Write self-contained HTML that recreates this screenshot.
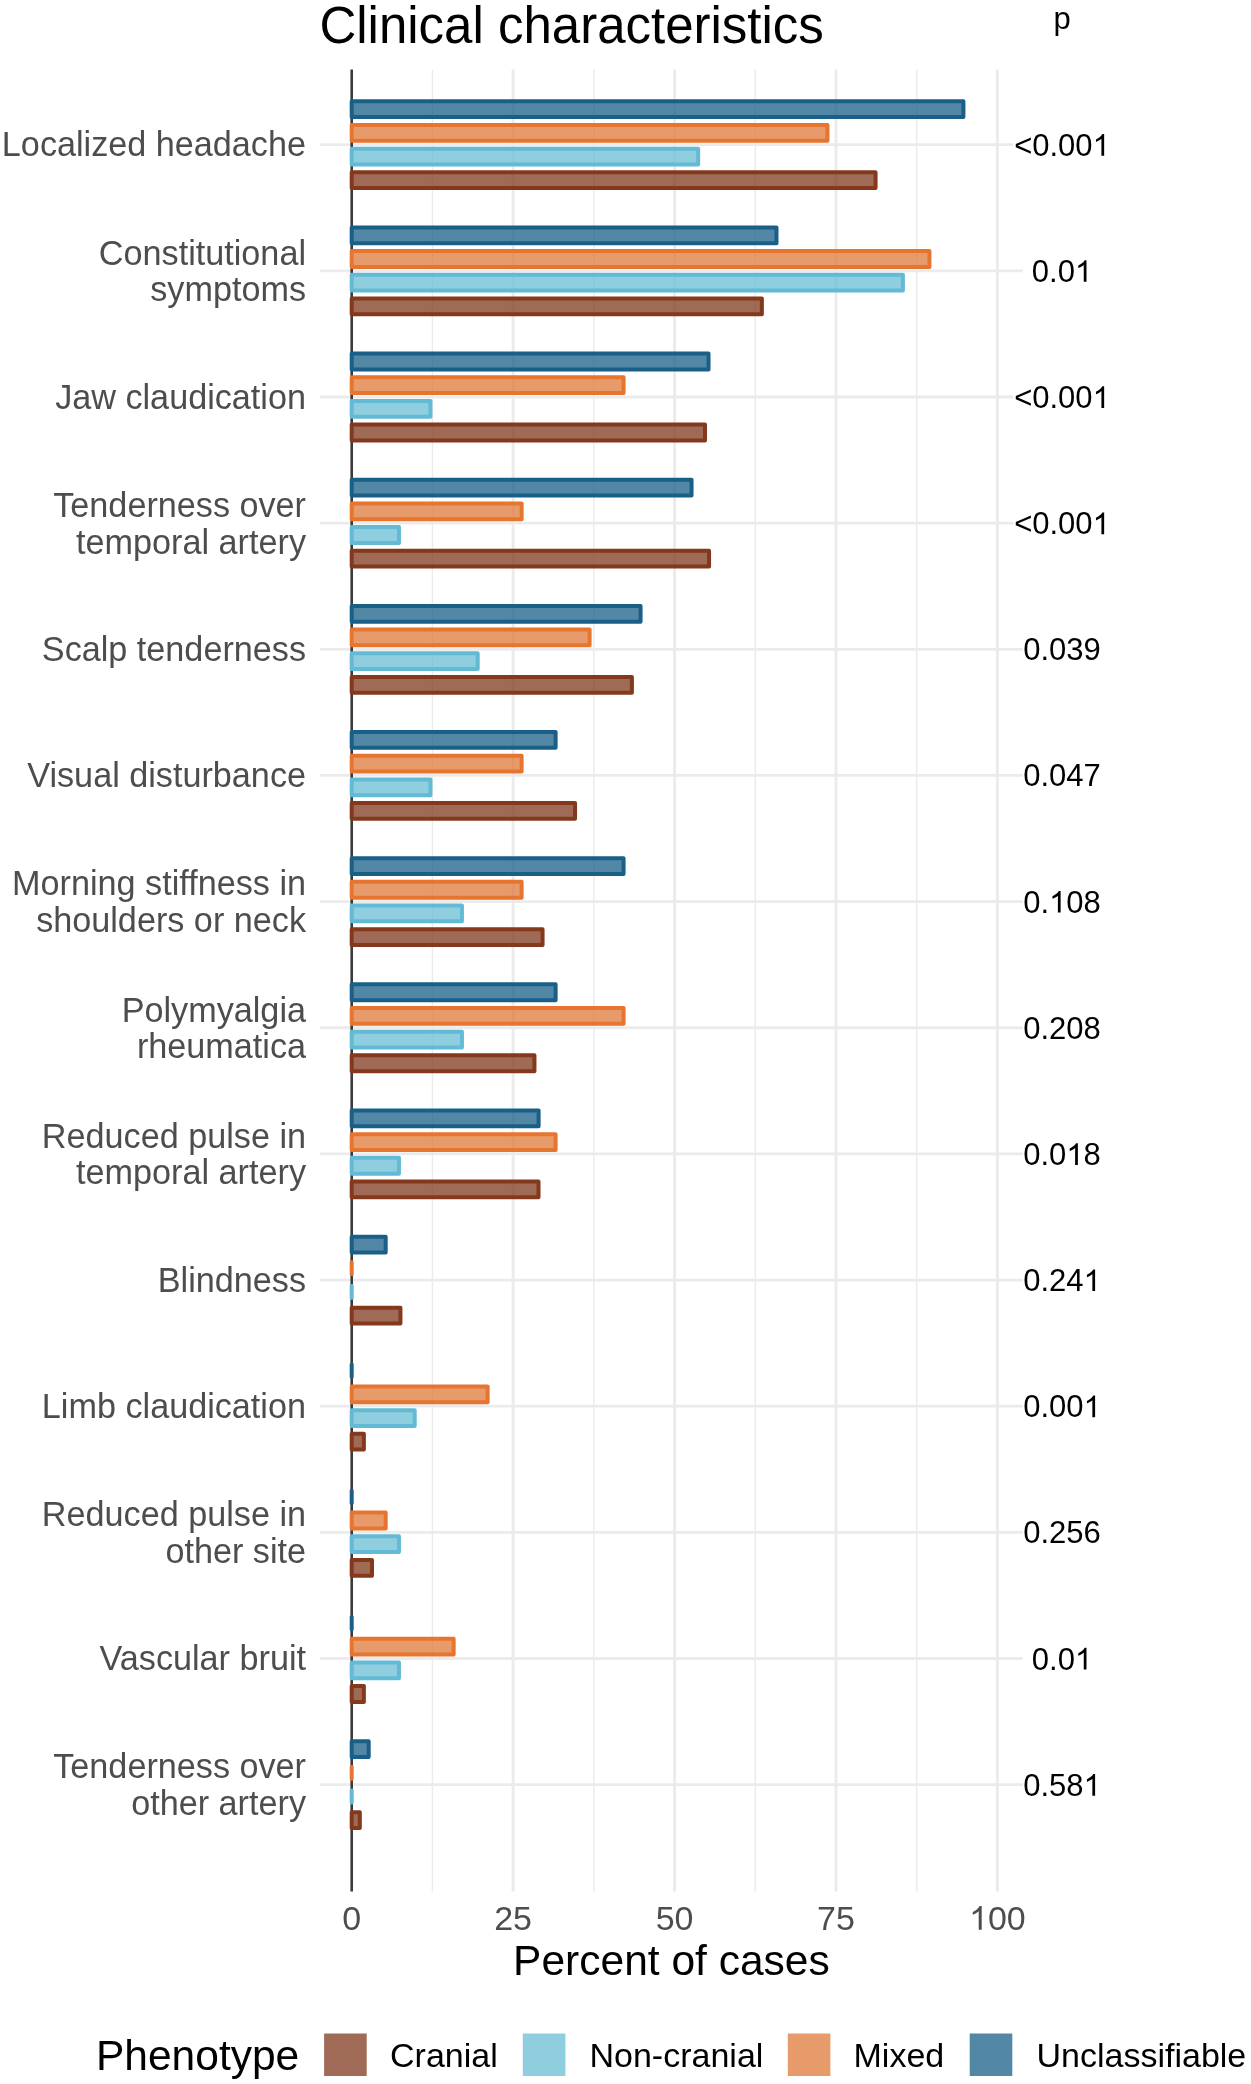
<!DOCTYPE html>
<html><head><meta charset="utf-8"><title>Clinical characteristics</title>
<style>html,body{margin:0;padding:0;background:#fff;}body{width:1251px;height:2084px;overflow:hidden;font-family:"Liberation Sans",sans-serif;}svg{display:block;will-change:transform;}</style>
</head><body>
<svg width="1251" height="2084" viewBox="0 0 1251 2084">
<rect x="0" y="0" width="1251" height="2084" fill="#ffffff"/>
<line x1="432.41" y1="69.5" x2="432.41" y2="1891.6" stroke="#ebebeb" stroke-width="1.4"/>
<line x1="593.84" y1="69.5" x2="593.84" y2="1891.6" stroke="#ebebeb" stroke-width="1.4"/>
<line x1="755.26" y1="69.5" x2="755.26" y2="1891.6" stroke="#ebebeb" stroke-width="1.4"/>
<line x1="916.69" y1="69.5" x2="916.69" y2="1891.6" stroke="#ebebeb" stroke-width="1.4"/>
<line x1="513.12" y1="69.5" x2="513.12" y2="1891.6" stroke="#ebebeb" stroke-width="2.9"/>
<line x1="674.55" y1="69.5" x2="674.55" y2="1891.6" stroke="#ebebeb" stroke-width="2.9"/>
<line x1="835.97" y1="69.5" x2="835.97" y2="1891.6" stroke="#ebebeb" stroke-width="2.9"/>
<line x1="997.40" y1="69.5" x2="997.40" y2="1891.6" stroke="#ebebeb" stroke-width="2.9"/>
<line x1="320" y1="144.70" x2="1013.4" y2="144.70" stroke="#ebebeb" stroke-width="2.8"/>
<line x1="320" y1="270.85" x2="1022.8" y2="270.85" stroke="#ebebeb" stroke-width="2.8"/>
<line x1="320" y1="397.00" x2="1013.4" y2="397.00" stroke="#ebebeb" stroke-width="2.8"/>
<line x1="320" y1="523.15" x2="1013.4" y2="523.15" stroke="#ebebeb" stroke-width="2.8"/>
<line x1="320" y1="649.30" x2="1022.8" y2="649.30" stroke="#ebebeb" stroke-width="2.8"/>
<line x1="320" y1="775.45" x2="1022.8" y2="775.45" stroke="#ebebeb" stroke-width="2.8"/>
<line x1="320" y1="901.60" x2="1022.8" y2="901.60" stroke="#ebebeb" stroke-width="2.8"/>
<line x1="320" y1="1027.75" x2="1022.8" y2="1027.75" stroke="#ebebeb" stroke-width="2.8"/>
<line x1="320" y1="1153.90" x2="1022.8" y2="1153.90" stroke="#ebebeb" stroke-width="2.8"/>
<line x1="320" y1="1280.05" x2="1022.8" y2="1280.05" stroke="#ebebeb" stroke-width="2.8"/>
<line x1="320" y1="1406.20" x2="1022.8" y2="1406.20" stroke="#ebebeb" stroke-width="2.8"/>
<line x1="320" y1="1532.35" x2="1022.8" y2="1532.35" stroke="#ebebeb" stroke-width="2.8"/>
<line x1="320" y1="1658.50" x2="1022.8" y2="1658.50" stroke="#ebebeb" stroke-width="2.8"/>
<line x1="320" y1="1784.65" x2="1022.8" y2="1784.65" stroke="#ebebeb" stroke-width="2.8"/>
<line x1="351.7" y1="69.5" x2="351.7" y2="1891.6" stroke="#3b3b3b" stroke-width="2.6"/>
<rect x="351.70" y="101.30" width="611.72" height="15.80" fill="#1a5f88" fill-opacity="0.75" stroke="#1a5f88" stroke-width="4.0" stroke-linejoin="round"/>
<rect x="351.70" y="124.95" width="475.78" height="15.80" fill="#e07a38" fill-opacity="0.75" stroke="#e67530" stroke-width="4.0" stroke-linejoin="round"/>
<rect x="351.70" y="148.65" width="346.47" height="15.80" fill="#6abed4" fill-opacity="0.75" stroke="#62bad5" stroke-width="4.0" stroke-linejoin="round"/>
<rect x="351.70" y="172.30" width="523.87" height="15.80" fill="#7f3a1e" fill-opacity="0.75" stroke="#84381c" stroke-width="4.0" stroke-linejoin="round"/>
<rect x="351.70" y="227.45" width="424.80" height="15.80" fill="#1a5f88" fill-opacity="0.75" stroke="#1a5f88" stroke-width="4.0" stroke-linejoin="round"/>
<rect x="351.70" y="251.10" width="577.73" height="15.80" fill="#e07a38" fill-opacity="0.75" stroke="#e67530" stroke-width="4.0" stroke-linejoin="round"/>
<rect x="351.70" y="274.80" width="551.21" height="15.80" fill="#6abed4" fill-opacity="0.75" stroke="#62bad5" stroke-width="4.0" stroke-linejoin="round"/>
<rect x="351.70" y="298.45" width="410.16" height="15.80" fill="#7f3a1e" fill-opacity="0.75" stroke="#84381c" stroke-width="4.0" stroke-linejoin="round"/>
<rect x="351.70" y="353.60" width="356.83" height="15.80" fill="#1a5f88" fill-opacity="0.75" stroke="#1a5f88" stroke-width="4.0" stroke-linejoin="round"/>
<rect x="351.70" y="377.25" width="271.87" height="15.80" fill="#e07a38" fill-opacity="0.75" stroke="#e67530" stroke-width="4.0" stroke-linejoin="round"/>
<rect x="351.70" y="400.95" width="78.74" height="15.80" fill="#6abed4" fill-opacity="0.75" stroke="#62bad5" stroke-width="4.0" stroke-linejoin="round"/>
<rect x="351.70" y="424.60" width="353.31" height="15.80" fill="#7f3a1e" fill-opacity="0.75" stroke="#84381c" stroke-width="4.0" stroke-linejoin="round"/>
<rect x="351.70" y="479.75" width="339.84" height="15.80" fill="#1a5f88" fill-opacity="0.75" stroke="#1a5f88" stroke-width="4.0" stroke-linejoin="round"/>
<rect x="351.70" y="503.40" width="169.92" height="15.80" fill="#e07a38" fill-opacity="0.75" stroke="#e67530" stroke-width="4.0" stroke-linejoin="round"/>
<rect x="351.70" y="527.10" width="47.25" height="15.80" fill="#6abed4" fill-opacity="0.75" stroke="#62bad5" stroke-width="4.0" stroke-linejoin="round"/>
<rect x="351.70" y="550.75" width="357.37" height="15.80" fill="#7f3a1e" fill-opacity="0.75" stroke="#84381c" stroke-width="4.0" stroke-linejoin="round"/>
<rect x="351.70" y="605.90" width="288.87" height="15.80" fill="#1a5f88" fill-opacity="0.75" stroke="#1a5f88" stroke-width="4.0" stroke-linejoin="round"/>
<rect x="351.70" y="629.55" width="237.89" height="15.80" fill="#e07a38" fill-opacity="0.75" stroke="#e67530" stroke-width="4.0" stroke-linejoin="round"/>
<rect x="351.70" y="653.25" width="125.99" height="15.80" fill="#6abed4" fill-opacity="0.75" stroke="#62bad5" stroke-width="4.0" stroke-linejoin="round"/>
<rect x="351.70" y="676.90" width="280.21" height="15.80" fill="#7f3a1e" fill-opacity="0.75" stroke="#84381c" stroke-width="4.0" stroke-linejoin="round"/>
<rect x="351.70" y="732.05" width="203.91" height="15.80" fill="#1a5f88" fill-opacity="0.75" stroke="#1a5f88" stroke-width="4.0" stroke-linejoin="round"/>
<rect x="351.70" y="755.70" width="169.92" height="15.80" fill="#e07a38" fill-opacity="0.75" stroke="#e67530" stroke-width="4.0" stroke-linejoin="round"/>
<rect x="351.70" y="779.40" width="78.74" height="15.80" fill="#6abed4" fill-opacity="0.75" stroke="#62bad5" stroke-width="4.0" stroke-linejoin="round"/>
<rect x="351.70" y="803.05" width="223.36" height="15.80" fill="#7f3a1e" fill-opacity="0.75" stroke="#84381c" stroke-width="4.0" stroke-linejoin="round"/>
<rect x="351.70" y="858.20" width="271.87" height="15.80" fill="#1a5f88" fill-opacity="0.75" stroke="#1a5f88" stroke-width="4.0" stroke-linejoin="round"/>
<rect x="351.70" y="881.85" width="169.92" height="15.80" fill="#e07a38" fill-opacity="0.75" stroke="#e67530" stroke-width="4.0" stroke-linejoin="round"/>
<rect x="351.70" y="905.55" width="110.24" height="15.80" fill="#6abed4" fill-opacity="0.75" stroke="#62bad5" stroke-width="4.0" stroke-linejoin="round"/>
<rect x="351.70" y="929.20" width="190.87" height="15.80" fill="#7f3a1e" fill-opacity="0.75" stroke="#84381c" stroke-width="4.0" stroke-linejoin="round"/>
<rect x="351.70" y="984.35" width="203.91" height="15.80" fill="#1a5f88" fill-opacity="0.75" stroke="#1a5f88" stroke-width="4.0" stroke-linejoin="round"/>
<rect x="351.70" y="1008.00" width="271.87" height="15.80" fill="#e07a38" fill-opacity="0.75" stroke="#e67530" stroke-width="4.0" stroke-linejoin="round"/>
<rect x="351.70" y="1031.70" width="110.24" height="15.80" fill="#6abed4" fill-opacity="0.75" stroke="#62bad5" stroke-width="4.0" stroke-linejoin="round"/>
<rect x="351.70" y="1055.35" width="182.75" height="15.80" fill="#7f3a1e" fill-opacity="0.75" stroke="#84381c" stroke-width="4.0" stroke-linejoin="round"/>
<rect x="351.70" y="1110.50" width="186.91" height="15.80" fill="#1a5f88" fill-opacity="0.75" stroke="#1a5f88" stroke-width="4.0" stroke-linejoin="round"/>
<rect x="351.70" y="1134.15" width="203.91" height="15.80" fill="#e07a38" fill-opacity="0.75" stroke="#e67530" stroke-width="4.0" stroke-linejoin="round"/>
<rect x="351.70" y="1157.85" width="47.25" height="15.80" fill="#6abed4" fill-opacity="0.75" stroke="#62bad5" stroke-width="4.0" stroke-linejoin="round"/>
<rect x="351.70" y="1181.50" width="186.81" height="15.80" fill="#7f3a1e" fill-opacity="0.75" stroke="#84381c" stroke-width="4.0" stroke-linejoin="round"/>
<rect x="351.70" y="1236.65" width="33.98" height="15.80" fill="#1a5f88" fill-opacity="0.75" stroke="#1a5f88" stroke-width="4.0" stroke-linejoin="round"/>
<rect x="349.70" y="1260.30" width="4.00" height="15.80" rx="1.6" fill="#e67530"/>
<rect x="349.70" y="1284.00" width="4.00" height="15.80" rx="1.6" fill="#62bad5"/>
<rect x="351.70" y="1307.65" width="48.73" height="15.80" fill="#7f3a1e" fill-opacity="0.75" stroke="#84381c" stroke-width="4.0" stroke-linejoin="round"/>
<rect x="349.70" y="1362.80" width="4.00" height="15.80" rx="1.6" fill="#1a5f88"/>
<rect x="351.70" y="1386.45" width="135.94" height="15.80" fill="#e07a38" fill-opacity="0.75" stroke="#e67530" stroke-width="4.0" stroke-linejoin="round"/>
<rect x="351.70" y="1410.15" width="63.00" height="15.80" fill="#6abed4" fill-opacity="0.75" stroke="#62bad5" stroke-width="4.0" stroke-linejoin="round"/>
<rect x="351.70" y="1433.80" width="12.18" height="15.80" fill="#7f3a1e" fill-opacity="0.75" stroke="#84381c" stroke-width="4.0" stroke-linejoin="round"/>
<rect x="349.70" y="1488.95" width="4.00" height="15.80" rx="1.6" fill="#1a5f88"/>
<rect x="351.70" y="1512.60" width="33.98" height="15.80" fill="#e07a38" fill-opacity="0.75" stroke="#e67530" stroke-width="4.0" stroke-linejoin="round"/>
<rect x="351.70" y="1536.30" width="47.25" height="15.80" fill="#6abed4" fill-opacity="0.75" stroke="#62bad5" stroke-width="4.0" stroke-linejoin="round"/>
<rect x="351.70" y="1559.95" width="20.31" height="15.80" fill="#7f3a1e" fill-opacity="0.75" stroke="#84381c" stroke-width="4.0" stroke-linejoin="round"/>
<rect x="349.70" y="1615.10" width="4.00" height="15.80" rx="1.6" fill="#1a5f88"/>
<rect x="351.70" y="1638.75" width="101.95" height="15.80" fill="#e07a38" fill-opacity="0.75" stroke="#e67530" stroke-width="4.0" stroke-linejoin="round"/>
<rect x="351.70" y="1662.45" width="47.25" height="15.80" fill="#6abed4" fill-opacity="0.75" stroke="#62bad5" stroke-width="4.0" stroke-linejoin="round"/>
<rect x="351.70" y="1686.10" width="12.18" height="15.80" fill="#7f3a1e" fill-opacity="0.75" stroke="#84381c" stroke-width="4.0" stroke-linejoin="round"/>
<rect x="351.70" y="1741.25" width="16.99" height="15.80" fill="#1a5f88" fill-opacity="0.75" stroke="#1a5f88" stroke-width="4.0" stroke-linejoin="round"/>
<rect x="349.70" y="1764.90" width="4.00" height="15.80" rx="1.6" fill="#e67530"/>
<rect x="349.70" y="1788.60" width="4.00" height="15.80" rx="1.6" fill="#62bad5"/>
<rect x="351.70" y="1812.25" width="8.12" height="15.80" fill="#7f3a1e" fill-opacity="0.75" stroke="#84381c" stroke-width="4.0" stroke-linejoin="round"/>
<g font-family="Liberation Sans, sans-serif" font-size="34.2" fill="#4d4d4d" text-anchor="end">
<text x="306" y="156.30">Localized headache</text>
<text x="306" y="264.65">Constitutional</text>
<text x="306" y="301.35">symptoms</text>
<text x="306" y="408.60">Jaw claudication</text>
<text x="306" y="516.95">Tenderness over</text>
<text x="306" y="553.65">temporal artery</text>
<text x="306" y="660.90">Scalp tenderness</text>
<text x="306" y="787.05">Visual disturbance</text>
<text x="306" y="895.40">Morning stiffness in</text>
<text x="306" y="932.10">shoulders or neck</text>
<text x="306" y="1021.55">Polymyalgia</text>
<text x="306" y="1058.25">rheumatica</text>
<text x="306" y="1147.70">Reduced pulse in</text>
<text x="306" y="1184.40">temporal artery</text>
<text x="306" y="1291.65">Blindness</text>
<text x="306" y="1417.80">Limb claudication</text>
<text x="306" y="1526.15">Reduced pulse in</text>
<text x="306" y="1562.85">other site</text>
<text x="306" y="1670.10">Vascular bruit</text>
<text x="306" y="1778.45">Tenderness over</text>
<text x="306" y="1815.15">other artery</text>
</g>
<g font-family="Liberation Sans, sans-serif" font-size="34" fill="#4d4d4d" text-anchor="middle">
<text x="351.70" y="1929.80" font-size="34" fill="#4d4d4d" text-anchor="middle" >0</text>
<text x="513.12" y="1929.80" font-size="34" fill="#4d4d4d" text-anchor="middle" >25</text>
<text x="674.55" y="1929.80" font-size="34" fill="#4d4d4d" text-anchor="middle" >50</text>
<text x="835.97" y="1929.80" font-size="34" fill="#4d4d4d" text-anchor="middle" >75</text>
<path d="M 981.70 1929.80 L 978.71 1929.80 L 978.71 1911.23 Q 977.64 1912.24 975.88 1913.24 Q 974.12 1914.24 972.74 1914.75 L 972.74 1911.93 Q 975.21 1910.80 977.07 1909.18 Q 978.93 1907.56 979.71 1906.07 L 981.70 1906.07 Z" fill="#4d4d4d"/><text x="987.95" y="1929.80" font-size="34" fill="#4d4d4d" text-anchor="start" >00</text>
</g>
<g font-family="Liberation Sans, sans-serif" font-size="31" fill="#000000" text-anchor="middle">
<text x="1062" y="29.3">p</text>
<text x="1014.16" y="155.70" font-size="31" fill="#000000" text-anchor="start" >&lt;0.00</text><path d="M 1104.15 155.70 L 1101.42 155.70 L 1101.42 138.77 Q 1100.44 139.69 1098.84 140.60 Q 1097.23 141.52 1095.97 141.97 L 1095.97 139.41 Q 1098.23 138.37 1099.93 136.90 Q 1101.62 135.42 1102.33 134.06 L 1104.15 134.06 Z" fill="#000000"/>
<text x="1031.83" y="281.85" font-size="31" fill="#000000" text-anchor="start" >0.0</text><path d="M 1086.48 281.85 L 1083.75 281.85 L 1083.75 264.92 Q 1082.77 265.84 1081.16 266.75 Q 1079.56 267.67 1078.30 268.12 L 1078.30 265.56 Q 1080.56 264.52 1082.25 263.05 Q 1083.95 261.57 1084.66 260.21 L 1086.48 260.21 Z" fill="#000000"/>
<text x="1014.16" y="408.00" font-size="31" fill="#000000" text-anchor="start" >&lt;0.00</text><path d="M 1104.15 408.00 L 1101.42 408.00 L 1101.42 391.07 Q 1100.44 391.99 1098.84 392.90 Q 1097.23 393.82 1095.97 394.27 L 1095.97 391.71 Q 1098.23 390.67 1099.93 389.20 Q 1101.62 387.72 1102.33 386.36 L 1104.15 386.36 Z" fill="#000000"/>
<text x="1014.16" y="534.15" font-size="31" fill="#000000" text-anchor="start" >&lt;0.00</text><path d="M 1104.15 534.15 L 1101.42 534.15 L 1101.42 517.22 Q 1100.44 518.14 1098.84 519.05 Q 1097.23 519.97 1095.97 520.42 L 1095.97 517.86 Q 1098.23 516.82 1099.93 515.35 Q 1101.62 513.87 1102.33 512.51 L 1104.15 512.51 Z" fill="#000000"/>
<text x="1062.00" y="660.30" font-size="31" fill="#000000" text-anchor="middle" >0.039</text>
<text x="1062.00" y="786.45" font-size="31" fill="#000000" text-anchor="middle" >0.047</text>
<text x="1023.21" y="912.60" font-size="31" fill="#000000" text-anchor="start" >0.</text><path d="M 1060.61 912.60 L 1057.89 912.60 L 1057.89 895.67 Q 1056.91 896.59 1055.30 897.50 Q 1053.70 898.42 1052.44 898.87 L 1052.44 896.31 Q 1054.70 895.27 1056.39 893.80 Q 1058.09 892.32 1058.80 890.96 L 1060.61 890.96 Z" fill="#000000"/><text x="1066.31" y="912.60" font-size="31" fill="#000000" text-anchor="start" >08</text>
<text x="1062.00" y="1038.75" font-size="31" fill="#000000" text-anchor="middle" >0.208</text>
<text x="1023.21" y="1164.90" font-size="31" fill="#000000" text-anchor="start" >0.0</text><path d="M 1077.86 1164.90 L 1075.13 1164.90 L 1075.13 1147.97 Q 1074.15 1148.89 1072.54 1149.80 Q 1070.94 1150.72 1069.68 1151.17 L 1069.68 1148.61 Q 1071.94 1147.57 1073.63 1146.10 Q 1075.33 1144.62 1076.04 1143.26 L 1077.86 1143.26 Z" fill="#000000"/><text x="1083.55" y="1164.90" font-size="31" fill="#000000" text-anchor="start" >8</text>
<text x="1023.21" y="1291.05" font-size="31" fill="#000000" text-anchor="start" >0.24</text><path d="M 1095.10 1291.05 L 1092.37 1291.05 L 1092.37 1274.12 Q 1091.39 1275.04 1089.78 1275.95 Q 1088.18 1276.87 1086.92 1277.32 L 1086.92 1274.76 Q 1089.18 1273.72 1090.87 1272.25 Q 1092.57 1270.77 1093.28 1269.41 L 1095.10 1269.41 Z" fill="#000000"/>
<text x="1023.21" y="1417.20" font-size="31" fill="#000000" text-anchor="start" >0.00</text><path d="M 1095.10 1417.20 L 1092.37 1417.20 L 1092.37 1400.27 Q 1091.39 1401.19 1089.78 1402.10 Q 1088.18 1403.02 1086.92 1403.47 L 1086.92 1400.91 Q 1089.18 1399.87 1090.87 1398.40 Q 1092.57 1396.92 1093.28 1395.56 L 1095.10 1395.56 Z" fill="#000000"/>
<text x="1062.00" y="1543.35" font-size="31" fill="#000000" text-anchor="middle" >0.256</text>
<text x="1031.83" y="1669.50" font-size="31" fill="#000000" text-anchor="start" >0.0</text><path d="M 1086.48 1669.50 L 1083.75 1669.50 L 1083.75 1652.57 Q 1082.77 1653.49 1081.16 1654.40 Q 1079.56 1655.32 1078.30 1655.77 L 1078.30 1653.21 Q 1080.56 1652.17 1082.25 1650.70 Q 1083.95 1649.22 1084.66 1647.86 L 1086.48 1647.86 Z" fill="#000000"/>
<text x="1023.21" y="1795.65" font-size="31" fill="#000000" text-anchor="start" >0.58</text><path d="M 1095.10 1795.65 L 1092.37 1795.65 L 1092.37 1778.72 Q 1091.39 1779.64 1089.78 1780.55 Q 1088.18 1781.47 1086.92 1781.92 L 1086.92 1779.36 Q 1089.18 1778.32 1090.87 1776.85 Q 1092.57 1775.37 1093.28 1774.01 L 1095.10 1774.01 Z" fill="#000000"/>
</g>
<text x="319.4" y="42.6" font-family="Liberation Sans, sans-serif" font-size="51" fill="#000">Clinical characteristics</text>
<text x="671.4" y="1975.3" font-family="Liberation Sans, sans-serif" font-size="42.5" fill="#000" text-anchor="middle">Percent of cases</text>
<text x="96" y="2070.4" font-family="Liberation Sans, sans-serif" font-size="42.5" fill="#000">Phenotype</text>
<rect x="324.1" y="2033.5" width="42.6" height="42.5" fill="#9f6b56"/>
<text x="390" y="2066.5" font-family="Liberation Sans, sans-serif" font-size="34" fill="#000">Cranial</text>
<rect x="522.8" y="2033.5" width="42.6" height="42.5" fill="#8fcedf"/>
<text x="589.5" y="2066.5" font-family="Liberation Sans, sans-serif" font-size="34" fill="#000">Non-cranial</text>
<rect x="787.8" y="2033.5" width="42.6" height="42.5" fill="#e89b6a"/>
<text x="853.5" y="2066.5" font-family="Liberation Sans, sans-serif" font-size="34" fill="#000">Mixed</text>
<rect x="969.7" y="2033.5" width="42.6" height="42.5" fill="#5387a6"/>
<text x="1036.5" y="2066.5" font-family="Liberation Sans, sans-serif" font-size="34" fill="#000">Unclassifiable</text>
</svg>
</body></html>
